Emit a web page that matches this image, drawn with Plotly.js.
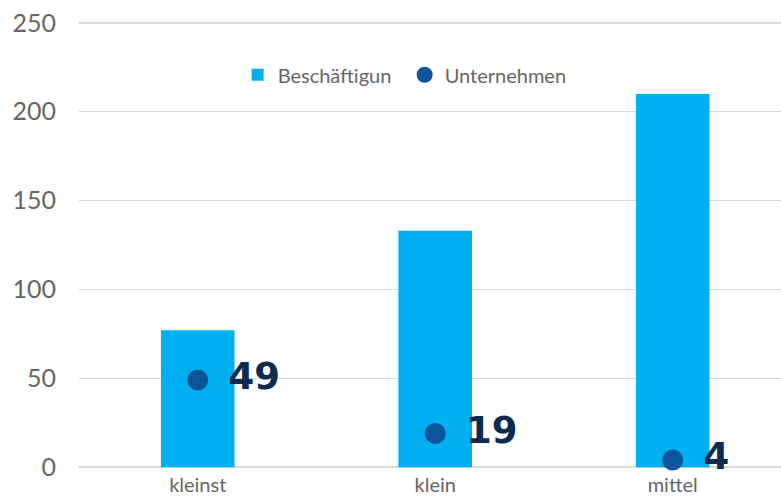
<!DOCTYPE html>
<html>
<head>
<meta charset="utf-8">
<script src="https://cdn.plot.ly/plotly-3.0.1.min.js"></script>
<style>html,body{margin:0;padding:0;background:#fff;}#chart{width:781px;height:497px;}</style>
</head>
<body>
<div id="chart"></div>
<script>
var categories = ["kleinst", "klein", "mittel"];
var beschaeftigung = [77, 133, 210];
var unternehmen = [49, 19, 4];
var yTicks = [0, 50, 100, 150, 200, 250];

var traces = [
  {
    type: "bar",
    name: "Beschäftigun",
    x: categories,
    y: beschaeftigung,
    width: 0.31,
    marker: {color: "#00B0F0"},
    hoverinfo: "skip"
  },
  {
    type: "scatter",
    mode: "markers+text",
    name: "Unternehmen",
    x: categories,
    y: unternehmen,
    text: unternehmen.map(function(v){ return "\u2009\u2005" + v; }),
    textposition: "middle right",
    textfont: {family: "DejaVu Sans, sans-serif", size: 37, color: "#0D2A50", weight: "bold"},
    marker: {color: "#0A5499", size: 21},
    cliponaxis: false,
    hoverinfo: "skip"
  }
];

var layout = {
  width: 781,
  height: 497,
  margin: {l: 79, r: 0, t: 21, b: 28},
  paper_bgcolor: "#ffffff",
  plot_bgcolor: "#ffffff",
  font: {family: "Lato, sans-serif", color: "#666666"},
  showlegend: true,
  legend: {
    orientation: "h",
    x: 0.226, xanchor: "left",
    y: 0.88, yanchor: "middle",
    font: {size: 20, color: "#666666"},
    itemwidth: 30,
    entrywidth: 122,
    entrywidthmode: "pixels",
    tracegroupgap: 0,
    bgcolor: "rgba(0,0,0,0)"
  },
  xaxis: {
    type: "category",
    range: [-0.5, 2.456],
    showgrid: false,
    zeroline: false,
    showline: false,
    ticks: "",
    tickfont: {size: 20, color: "#666666"},
    ticklabelstandoff: 2
  },
  yaxis: {
    range: [-1, 251],
    tickvals: yTicks,
    ticktext: yTicks.map(String),
    showgrid: true,
    gridcolor: "#D9D9D9",
    gridwidth: 1.5,
    zeroline: false,
    showline: false,
    ticks: "",
    tickfont: {size: 25, color: "#666666"},
    ticklabelstandoff: 22
  }
};

Plotly.newPlot("chart", traces, layout, {staticPlot: true, displayModeBar: false});
</script>
</body>
</html>
